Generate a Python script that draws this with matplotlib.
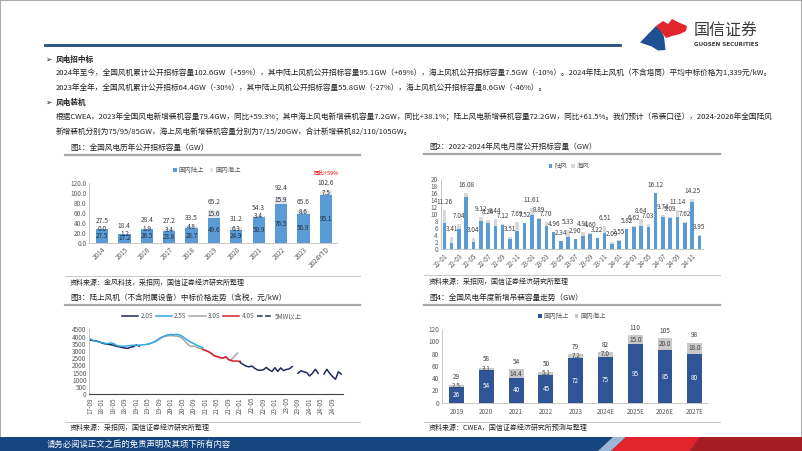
import matplotlib
matplotlib.use('Agg')
import matplotlib.pyplot as plt
import numpy as np
from matplotlib.patches import Rectangle, Polygon, Patch
from matplotlib.lines import Line2D

plt.rcParams['font.family'] = ['Noto Sans CJK SC', 'DejaVu Sans']
plt.rcParams['axes.unicode_minus'] = False

# ---------------- data ----------------
# Chart 1
years1 = ['2014', '2015', '2016', '2017', '2018', '2019', '2020', '2021', '2022', '2023', '2024YTD']
onshore1 = [27.5, 17.2, 26.5, 23.8, 28.7, 49.6, 24.9, 50.9, 76.5, 56.9, 95.1]
offshore1 = [0.0, 1.2, 1.9, 3.4, 4.8, 15.6, 6.3, 3.4, 15.9, 8.6, 7.5]
total1 = [27.5, 18.4, 28.4, 27.2, 33.5, 65.2, 31.2, 54.3, 92.4, 65.6, 102.6]
yoy1 = '同比+59%'

# Chart 2
months2 = [f'{y}-{m:02d}' for y in (22, 23, 24) for m in range(1, 13)]
total2 = [11.26, 3.41, 7.04, 16.08, 3.04, 9.12, 8.26, 8.44, 7.12, 3.51, 7.69, 7.52,
          11.61, 8.89, 7.70, 4.96, 2.34, 5.33, 2.90, 4.91, 4.60, 3.22, 6.51, 2.09,
          2.55, 5.82, 6.62, 8.64, 7.03, 16.12, 9.74, 9.09, 11.14, 7.62, 14.25, 3.95]
onshore2 = [7.3, 1.8, 5.6, 15.0, 2.1, 8.0, 7.3, 6.6, 6.9, 2.8, 5.2, 7.3,
            9.7, 8.7, 6.6, 4.9, 2.3, 3.3, 2.8, 3.6, 4.4, 3.2, 4.5, 1.5,
            2.4, 5.7, 6.2, 6.6, 6.2, 15.9, 9.2, 8.9, 9.2, 7.3, 13.5, 3.7]
offshore2 = [3.96, 1.61, 1.44, 1.08, 0.94, 1.12, 0.96, 1.84, 0.22, 0.71, 2.49, 0.22,
             1.91, 0.19, 1.10, 0.06, 0.04, 2.03, 0.10, 1.31, 0.20, 0.02, 2.01, 0.59,
             0.15, 0.12, 0.42, 2.04, 0.83, 0.22, 0.54, 0.19, 1.94, 0.32, 0.75, 0.25]

# Chart 3 (monthly, from 17-09 to 24-12)
months3 = [f'{y % 100:02d}-{m:02d}' for y in range(2017, 2025) for m in range(1, 13)][8:]
ticks3 = ['17-09', '18-01', '18-05', '18-09', '19-01', '19-05', '19-09', '20-01', '20-05',
          '20-09', '21-01', '21-05', '21-09', '22-01', '22-05', '22-09', '23-01', '23-05',
          '23-09', '24-01', '24-05', '24-09']
s20_start = '17-09'
s20 = [3760, 3720, 3700, 3640, 3560, 3500, 3470, 3440, 3400, 3330, 3290, 3240, 3200,
       3180, 3260, 3300, 3420, 3330]
s25_start = '17-09'
s25 = [3850, 3720, 3680, 3620, 3580, 3540, 3500, 3560, 3520, 3400, 3350, 3320, 3330,
       3360, 3380, 3400, 3380, 3400, 3420, 3440, 3480, 3540, 3600, 3700, 3820, 3950,
       4050, 4120, 4150, 4130, 4150, 4100, 4000, 3850, 3720, 3600, 3500, 3400, 3300, 3230]
s30_start = '19-05'
s30 = [3450, 3520, 3620, 3750, 3880, 3980, 4020, 4050, 4060, 4050, 4030, 3980, 3850,
       3650, 3420, 3300, 3350, 3250, 3180, 3120, 3050, 2950, 2850, 2700, 2620, 2560,
       2500, 2600, 2380, 2420, 2620, 2850]
s40_start = '20-12'
s40 = [3110, 3030, 2950, 2820, 2660, 2600, 2540, 2500, 2600, 2400, 2320, 2300, 2300, 2280]
s5mw_start = '22-01'
s5mw = [2200, 2070, 1950, 1900, 1960, 1800, 1680, 1660, 1700, 1860, 1700, 1580,
        1840, 1580, 1830, 1640, 1720, 1760, 1920, np.nan, 1450, 1630, 1560, 1500,
        1270, 1450, 1730, 1450, np.nan, 1400, 1730, 1450, 1220, 1040, 1560, 1400]
labels3 = ['2.0S', '2.5S', '3.0S', '4.0S', '5MW以上']

# Chart 4
years4 = ['2019', '2020', '2021', '2022', '2023', '2024E', '2025E', '2026E', '2027E']
onshore4 = [26, 54, 40, 45, 72, 75, 95, 85, 80]
offshore4 = [2.5, 3.1, 14.4, 5.1, 7.2, 7.0, 15.0, 20.0, 18.0]
total4 = [29, 58, 54, 50, 79, 82, 110, 105, 98]

# ---------------- figure helpers ----------------
W, H = 802, 451
fig = plt.figure(figsize=(W / 100, H / 100), dpi=100)
fig.patch.set_facecolor('white')


def fx(x):
    return x / W


def fy(y):
    return 1 - y / H


def ftext(x, y, s, size, **kw):
    kw.setdefault('ha', 'left')
    kw.setdefault('va', 'center')
    fig.text(fx(x), fy(y), s, fontsize=size, **kw)


def hline(x0, x1, y, color, lw):
    fig.add_artist(Line2D([fx(x0), fx(x1)], [fy(y), fy(y)], color=color, lw=lw,
                          transform=fig.transFigure))


def poly(pts, color, z=5):
    fig.add_artist(Polygon([(fx(a), fy(b)) for a, b in pts], closed=True,
                           facecolor=color, edgecolor='none', transform=fig.transFigure, zorder=z))


def add_ax(left, top, right, bottom):
    return fig.add_axes([fx(left), fy(bottom), (right - left) / W, (bottom - top) / H])


TXT = '#222222'
TICK = '#595959'

# ---------------- header ----------------
fig.add_artist(Rectangle((0, 0), 1, 1, transform=fig.transFigure, fill=False,
                         edgecolor='#9a9a9a', lw=1.2))
hline(45, 620, 44.5, '#1F4E79', 2.0)
# logo
poly([(640, 42.5), (656, 26), (660.7, 30), (664, 36.7), (665.5, 50), (658, 50.5),
      (651.7, 46.5)], '#1D4F91')
poly([(656, 26), (663, 21), (668, 24), (672, 19), (680, 23), (687, 26), (686, 31),
      (680, 34), (672, 36), (666, 38), (662, 33)], '#E0262C')
ftext(694, 31, '国信证券', 11.5, color='#3a3a3a')
ftext(694, 44.5, 'GUOSEN SECURITIES', 4.1, color='#3a3a3a', weight='bold',
      family=['DejaVu Sans'])

BODY = 5.5
ftext(45.5, 59, '➢', 5.5, color=TXT, family=['DejaVu Sans'])
ftext(56, 59, '风电招中标', BODY, color=TXT, weight='bold')
ftext(56, 73.5, '2024年至今，全国风机累计公开招标容量102.6GW（+59%），其中陆上风机公开招标容量95.1GW（+69%），'
      '海上风机公开招标容量7.5GW（-10%）。2024年陆上风机（不含塔筒）平均中标价格为1,339元/kW。', BODY, color=TXT)
ftext(56, 88, '2023年全年，全国风机累计公开招标64.4GW（-30%），其中陆上风机公开招标容量55.8GW（-27%），'
      '海上风机公开招标容量8.6GW（-46%）。', BODY, color=TXT)
ftext(45.5, 102, '➢', 5.5, color=TXT, family=['DejaVu Sans'])
ftext(56, 102, '风电装机', BODY, color=TXT, weight='bold')
ftext(56, 117, '根据CWEA，2023年全国风电新增装机容量79.4GW，同比+59.3%；其中海上风电新增装机容量7.2GW，同比+38.1%；'
      '陆上风电新增装机容量72.2GW，同比+61.5%。我们预计（吊装口径），2024-2026年全国陆风', BODY, color=TXT)
ftext(56, 131.5, '新增装机分别为75/95/85GW，海上风电新增装机容量分别为7/15/20GW，合计新增装机82/110/105GW。',
      BODY, color=TXT)

# ---------------- chart frames ----------------
TS = 5.5
SS = 5.0
UL = '#A6A6A6'
for (x0, x1, ty, uly, sly, sy, title, src) in [
        (65, 360, 148, 155, 275.5, 283, '图1：全国风电历年公开招标容量（GW）', '资料来源：金风科技，采招网，国信证券经济研究所整理'),
        (424, 720, 147, 154, 274.5, 282, '图2：2022-2024年风电月度公开招标容量（GW）', '资料来源：采招网，国信证券经济研究所整理'),
        (65, 360, 298, 305, 421.5, 428, '图3：陆上风机（不含附属设备）中标价格走势（含税，元/kW）', '资料来源：采招网，国信证券经济研究所整理'),
        (424, 720, 298, 305, 421.5, 428, '图4：全国风电年度新增吊装容量走势（GW）', '资料来源：CWEA，国信证券经济研究所预测与整理')]:
    ftext(x0 + 5, ty, title, TS, color=TXT)
    hline(x0, x1, uly, UL, 1.6)
    hline(x0, x1, sly, '#BFBFBF', 0.6)
    ftext(x0 + 5, sy, src, SS, color=TXT)


def style_ax(ax):
    for s in ('top', 'right'):
        ax.spines[s].set_visible(False)
    ax.spines['left'].set_color('#BFBFBF')
    ax.spines['bottom'].set_color('#BFBFBF')
    ax.spines['left'].set_linewidth(0.6)
    ax.spines['bottom'].set_linewidth(0.6)
    ax.tick_params(axis='both', length=0, labelsize=4.6, labelcolor=TICK, pad=2)
    ax.set_facecolor('none')


PT = 72 / 100  # points per pixel

# ---------------- chart 1 ----------------
ax1 = add_ax(89, 182.7, 337, 242.7)
style_ax(ax1)
x1 = np.arange(len(years1))
b1a = ax1.bar(x1, onshore1, width=0.55, color='#5B9BD5', label='国内陆上')
b1b = ax1.bar(x1, offshore1, width=0.55, bottom=onshore1, color='#E7E6E6', label='国内海上')
ax1.set_ylim(0, 120)
ax1.set_xlim(-0.58, 10.5)
ax1.set_yticks(np.arange(0, 121, 20))
ax1.set_yticklabels([f'{v:.1f}' for v in np.arange(0, 121, 20)])
ax1.set_xticks(x1)
ax1.set_xticklabels(years1, rotation=45, ha='right', rotation_mode='anchor')
for i in range(len(years1)):
    ax1.text(x1[i], onshore1[i] / 2, f'{onshore1[i]:.1f}', ha='center', va='center',
             fontsize=4.6, color='#1F2F45')
    ax1.text(x1[i], onshore1[i] + offshore1[i] / 2, f'{offshore1[i]:.1f}', ha='center',
             va='center', fontsize=4.6, color='#1F2F45')
    ax1.annotate(f'{total1[i]:.1f}', (x1[i], total1[i]), xytext=(0, 8 * PT),
                 textcoords='offset points', ha='center', va='center', fontsize=4.8, color='#404040')
ax1.annotate(yoy1, (x1[-1], total1[-1]), xytext=(0, 17.5 * PT), textcoords='offset points',
             ha='center', va='center', fontsize=4.0, color='#FF0000')
fig.legend(handles=[b1a, b1b], loc='center', bbox_to_anchor=(fx(207), fy(170)), ncol=2,
           frameon=False, fontsize=4.6, handlelength=0.6, handleheight=0.6,
           columnspacing=0.8, handletextpad=0.3, labelcolor=TICK)

# ---------------- chart 2 ----------------
ax2 = add_ax(440.7, 179, 703, 249)
style_ax(ax2)
x2 = np.arange(len(months2))
b2a = ax2.bar(x2, onshore2, width=0.5, color='#5B9BD5', label='陆风')
b2b = ax2.bar(x2, offshore2, width=0.5, bottom=onshore2, color='#D9D9D9', label='海风')
ax2.set_ylim(0, 20)
ax2.set_xlim(-0.5, 35.5)
ax2.set_yticks(np.arange(0, 21, 2))
ax2.set_xticks(x2[::2])
ax2.set_xticklabels(months2[::2], rotation=45, ha='right', rotation_mode='anchor')
for i in range(len(months2)):
    ax2.annotate(f'{total2[i]:.2f}', (x2[i], total2[i]), xytext=(0, 8 * PT),
                 textcoords='offset points', ha='center', va='center', fontsize=4.6, color='#404040')
fig.legend(handles=[b2a, b2b], loc='center', bbox_to_anchor=(fx(569), fy(166)), ncol=2,
           frameon=False, fontsize=4.6, handlelength=0.6, handleheight=0.6,
           columnspacing=0.6, handletextpad=0.3, labelcolor=TICK)

# ---------------- chart 3 ----------------
ax3 = add_ax(89.3, 329.3, 343, 394.3)
style_ax(ax3)
ax3.spines['bottom'].set_color('#404040')
ax3.spines['bottom'].set_linewidth(0.8)
cols3 = ['#1F2A5C', '#2EA8E6', '#A5A5A5', '#D7202B', '#1F2A5C']
series3 = [(s20_start, s20), (s25_start, s25), (s30_start, s30), (s40_start, s40), (s5mw_start, s5mw)]
order = [0, 2, 1, 3, 4]
handles3 = []
for k in order:
    st, vals = series3[k]
    i0 = months3.index(st)
    xs = np.arange(i0, i0 + len(vals))
    ax3.plot(xs, vals, color=cols3[k], lw=1.1, solid_joinstyle='round')
for k in range(5):
    handles3.append(Line2D([], [], color=cols3[k], lw=1.1, ls='--' if k == 4 else '-'))
ax3.set_ylim(0, 4500)
ax3.set_xlim(-0.3, 87.6)
ax3.set_yticks(np.arange(0, 4501, 500))
ax3.set_xticks([months3.index(t) for t in ticks3])
ax3.set_xticklabels(ticks3, rotation=90, ha='center', va='top')
fig.legend(handles=handles3, labels=labels3, loc='center', bbox_to_anchor=(fx(212), fy(316)),
           ncol=5, frameon=False, fontsize=4.6, handlelength=2.6, columnspacing=0.4,
           handletextpad=0.3, labelcolor=TICK)

# ---------------- chart 4 ----------------
ax4 = add_ax(441.7, 329, 706.7, 402.7)
style_ax(ax4)
x4 = np.arange(len(years4))
b4a = ax4.bar(x4, onshore4, width=0.5, color='#2F5597', label='国内陆上')
b4b = ax4.bar(x4, offshore4, width=0.5, bottom=onshore4, color='#C9C9C9', label='国内海上')
ax4.set_ylim(0, 120)
ax4.set_xlim(-0.5, 8.4)
ax4.set_yticks(np.arange(0, 121, 20))
ax4.set_xticks(x4)
ax4.set_xticklabels(years4)
ax4.tick_params(axis='x', pad=4)
for i in range(len(years4)):
    ax4.text(x4[i], onshore4[i] / 2, f'{onshore4[i]}', ha='center', va='center',
             fontsize=4.6, color='white')
    ax4.text(x4[i], onshore4[i] + offshore4[i] / 2, f'{offshore4[i]:.1f}', ha='center',
             va='center', fontsize=4.6, color='#404040')
    ax4.annotate(f'{total4[i]}', (x4[i], total4[i]), xytext=(0, 7.6 * PT),
                 textcoords='offset points', ha='center', va='center', fontsize=4.6, color='#404040')
fig.legend(handles=[b4a, b4b], loc='center', bbox_to_anchor=(fx(572), fy(316)), ncol=2,
           frameon=False, fontsize=4.6, handlelength=0.6, handleheight=0.6,
           columnspacing=0.8, handletextpad=0.3, labelcolor=TICK)

# ---------------- footer ----------------
fig.add_artist(Rectangle((0, 0), 1, 14 / H, transform=fig.transFigure, facecolor='#15457F',
                         edgecolor='none', zorder=4))
poly([(598, 451), (613, 437), (626, 437), (611, 451)], '#9DB6D6', z=5)
poly([(611, 451), (626, 437), (700, 437), (690, 451)], '#E3232B', z=5)
poly([(690, 451), (700, 437), (802, 437), (802, 451)], '#A61E24', z=5)
ftext(47, 444, '请务必阅读正文之后的免责声明及其项下所有内容', 6.0, color='white', zorder=6)

fig.savefig('out.png', dpi=100)
